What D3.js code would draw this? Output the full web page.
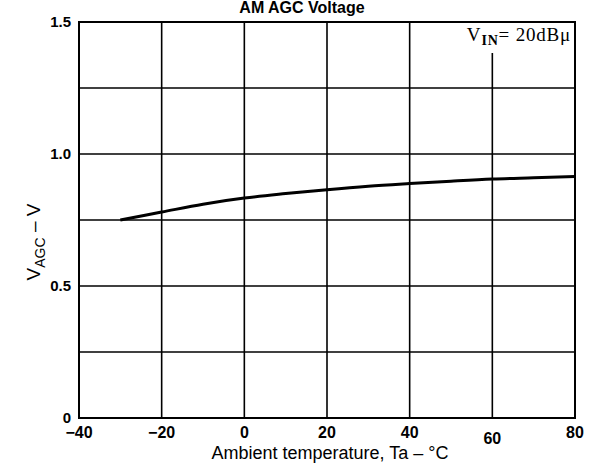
<!DOCTYPE html>
<html><head><meta charset="utf-8">
<script src="https://cdn.jsdelivr.net/npm/d3@7"></script>
<style>body{margin:0;background:#fff}</style>
</head><body><svg id="c" width="594" height="463"></svg>
<script>
const temps = [-30, -20, -10, 0, 10, 20, 30, 40, 50, 60, 70, 80];
const vagc  = [0.75, 0.78, 0.81, 0.833, 0.85, 0.865, 0.878, 0.888, 0.897, 0.905, 0.91, 0.915];
const xTicks = [-40, -20, 0, 20, 40, 60, 80];
const yTicks = [0, 0.5, 1.0, 1.5];
const yGrid = [0.25, 0.5, 0.75, 1.0, 1.25];
const xGrid = [-20, 0, 20, 40, 60];

const svg = d3.select("#c");
const m = {l:79, r:575, t:22, b:418};
const x = d3.scaleLinear().domain([-40,80]).range([m.l,m.r]);
const y = d3.scaleLinear().domain([0,1.5]).range([m.b,m.t]);
const font = "Liberation Sans, Arial, sans-serif";

svg.append("text").attr("x",302).attr("y",13).attr("text-anchor","middle")
  .attr("font-family",font).attr("font-weight","bold").attr("font-size",16).text("AM AGC Voltage");

const g = svg.append("g");
g.selectAll(".hg").data(yGrid).join("line")
  .attr("x1",m.l).attr("x2",m.r).attr("y1",d=>y(d)).attr("y2",d=>y(d))
  .attr("stroke","#000").attr("stroke-width",1.6);
g.selectAll(".vg").data(xGrid).join("line")
  .attr("x1",d=>x(d)).attr("x2",d=>x(d))
  .attr("y1",d=> d===60 ? 53 : m.t).attr("y2",m.b)
  .attr("stroke","#000").attr("stroke-width",1.6);
g.append("rect").attr("x",m.l).attr("y",m.t).attr("width",m.r-m.l).attr("height",m.b-m.t)
  .attr("fill","none").attr("stroke","#000").attr("stroke-width",2);

// legend
const lt = svg.append("text").attr("x",571).attr("y",41).attr("text-anchor","end")
  .attr("font-family","Liberation Serif, DejaVu Serif, serif").attr("font-size",19)
  .attr("letter-spacing",0.8);
lt.append("tspan").text("V");
lt.append("tspan").attr("dy",4).attr("font-size",14).attr("font-weight","bold").text("IN");
lt.append("tspan").attr("dy",-4).text("= 20dBμ");

// curve
const line = d3.line().x((d,i)=>x(temps[i])).y(d=>y(d)).curve(d3.curveMonotoneX);
svg.append("path").datum(vagc).attr("d",line).attr("fill","none")
  .attr("stroke","#000").attr("stroke-width",3);

// ticks
svg.selectAll(".xt").data(xTicks).join("text")
  .attr("x",d=>x(d)).attr("y",d=> d===60 ? 444 : 438).attr("text-anchor","middle")
  .attr("font-family",font).attr("font-weight","bold").attr("font-size",16)
  .text(d=> d<0 ? "−"+Math.abs(d) : d);
svg.selectAll(".yt").data(yTicks).join("text")
  .attr("x",71).attr("y",d=>y(d)+5).attr("text-anchor","end")
  .attr("font-family",font).attr("font-weight","bold").attr("font-size",15)
  .text(d=> d===0 ? "0" : d3.format(".1f")(d));

svg.append("text").attr("x",330).attr("y",459).attr("text-anchor","middle")
  .attr("font-family",font).attr("font-size",18).text("Ambient temperature, Ta – °C");

const yt = svg.append("text").attr("transform","translate(40,242) rotate(-90)").attr("text-anchor","middle")
  .attr("font-family",font).attr("font-size",19);
yt.append("tspan").text("V");
yt.append("tspan").attr("dy",5).attr("font-size",14).text("AGC");
yt.append("tspan").attr("dy",-5).text(" – V");
</script></body></html>
